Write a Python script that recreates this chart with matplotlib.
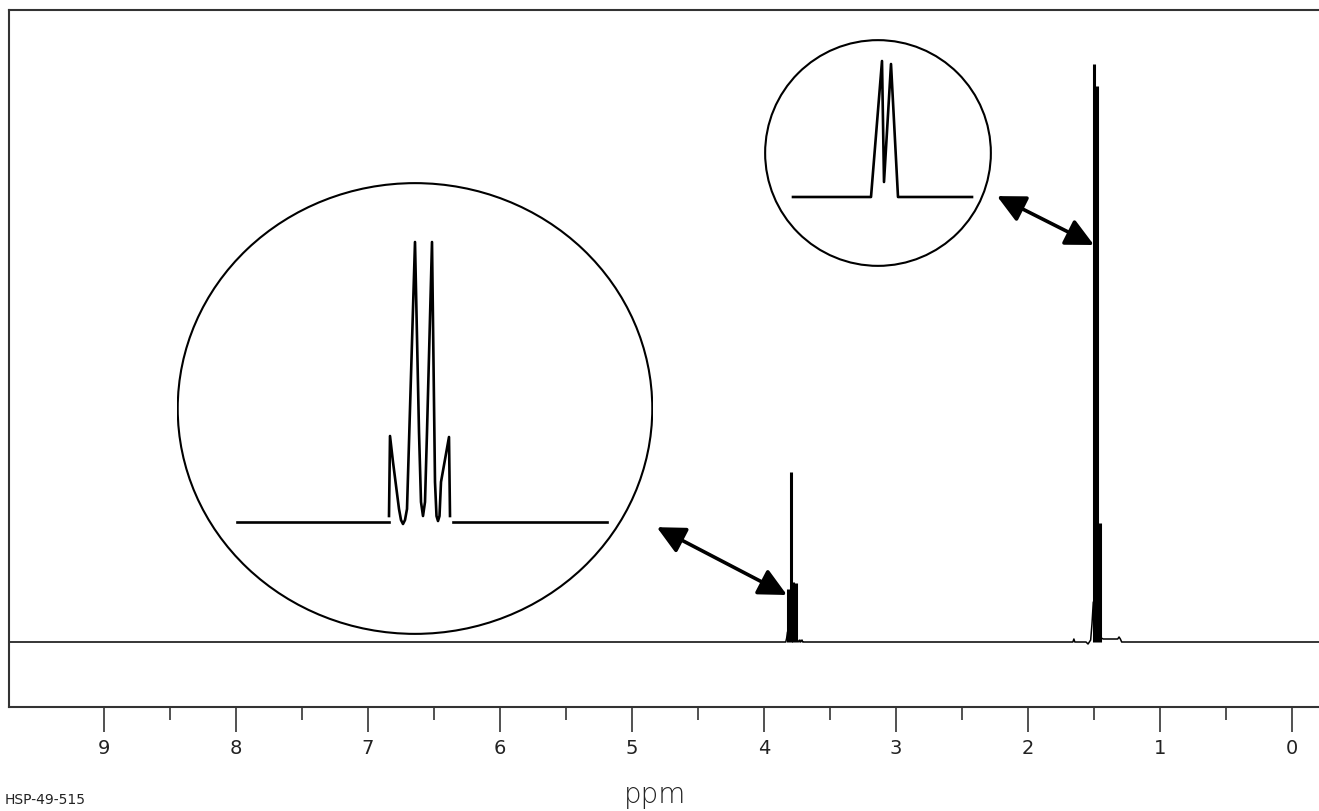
import matplotlib
matplotlib.use("Agg")
import matplotlib.pyplot as plt
from matplotlib.patches import Ellipse, ConnectionPatch

# Espectro principal: traza de la linea base (ppm, intensidad)
base_ppm = [9.72, 3.835, 3.828, 3.822, 3.760, 3.752, 3.735, 3.728, 3.722, 3.712, 3.706,
            3.70, 1.66, 1.652, 1.645, 1.56, 1.545, 1.525, 1.515, 1.505, 1.462, 1.455,
            1.445, 1.43, 1.40, 1.32, 1.31, 1.30, 1.29, -0.21]
base_int = [0, 0, 4, 10, 10, 3, 0, 2, 0, 2, 0,
            0, 0, 3, 0, 0, -2, 2, 18, 40, 40, 10,
            4, 3, 3, 3, 5, 3, 0, 0]

# Picos (lineas) del cuarteto y del doblete
pico_ppm = [3.818, 3.795, 3.780, 3.760, 1.500, 1.477, 1.455]
pico_int = [53, 170, 60, 59, 578, 556, 119]

# Ampliacion del cuarteto (unidades locales del recuadro)
cuart_x = [-26, -25, -22, -16, -14, -12, -10, -8, 0, 4, 6, 8, 10, 12,
           17, 20, 21.5, 23, 24.5, 26, 34, 35]
cuart_y = [6, 86, 60, 13, 2, -2, 2, 13, 280, 90, 20, 6, 20, 90,
           280, 40, 6, 1, 6, 40, 85, 6]
cuart_base_izq = [-178, -26]
cuart_base_der = [38, 192]

# Ampliacion del doblete
dob_x = [-85, -7, 4, 6, 13, 20, 94]
dob_y = [0, 0, 136, 15, 133, 0, 0]

ticks_mayor = list(range(0, 10))
ticks_menor = [x + 0.5 for x in range(0, 9)]

fig = plt.figure(figsize=(13.19, 8.12), dpi=100)
ax = fig.add_axes([9 / 1319, 1 - 708 / 812, 1310 / 1319, 697 / 812])

ax.plot(base_ppm, base_int, color="black", lw=1.1)
ax.vlines(pico_ppm, 0, pico_int, color="black", lw=2.2)

ax.set_xlim(9.72, -0.205)
ax.set_ylim(-65, 632)
ax.set_xticks(ticks_mayor)
ax.set_xticks(ticks_menor, minor=True)
ax.set_yticks([])
ax.tick_params(axis="x", which="major", direction="out", length=18, width=1.2,
               color="#333333", labelsize=14, labelcolor="#222222", pad=4)
ax.tick_params(axis="x", which="minor", direction="out", length=9, width=1.2,
               color="#333333")
for lado in ["top", "left", "bottom"]:
    ax.spines[lado].set_color("#333333")
    ax.spines[lado].set_linewidth(1.5)
ax.spines["right"].set_visible(False)

# Recuadro grande (cuarteto)
ins1 = fig.add_axes([177 / 1319, 1 - 636 / 812, 476 / 1319, 453 / 812])
ins1.set_xlim(-238, 238)
ins1.set_ylim(-113, 340)
ins1.axis("off")
ins1.add_patch(Ellipse((0.5, 0.5), 0.997, 0.995, transform=ins1.transAxes,
                       fill=False, lw=1.5, color="black"))
ins1.plot(cuart_x, cuart_y, color="black", lw=1.9, solid_joinstyle="round")
ins1.plot(cuart_base_izq, [0, 0], color="black", lw=1.9)
ins1.plot(cuart_base_der, [0, 0], color="black", lw=1.9)

# Recuadro pequeno (doblete)
ins2 = fig.add_axes([764 / 1319, 1 - 268 / 812, 228 / 1319, 228 / 812])
ins2.set_xlim(-114, 114)
ins2.set_ylim(-70, 158)
ins2.axis("off")
ins2.add_patch(Ellipse((0.5, 0.5), 0.99, 0.99, transform=ins2.transAxes,
                       fill=False, lw=1.5, color="black"))
ins2.plot(dob_x, dob_y, color="black", lw=1.9, solid_joinstyle="round")

# Flechas de doble punta
estilo = "<|-|>,head_length=0.85,head_width=0.42"
for ins, xy_ins, xy_pico in [(ins1, (1.008, 0.238), (3.826, 47)),
                             (ins2, (1.022, 0.311), (1.50, 397))]:
    con = ConnectionPatch(xyA=xy_ins, coordsA=ins.transAxes,
                          xyB=xy_pico, coordsB=ax.transData,
                          arrowstyle=estilo, mutation_scale=20,
                          lw=2.6, color="black")
    fig.add_artist(con)

fig.text(655 / 1319, 1 - 795 / 812, "ppm", ha="center", va="center",
         fontsize=20, color="#222222", fontweight="light")
fig.text(5 / 1319, 1 - 800 / 812, "HSP-49-515", ha="left", va="center",
         fontsize=10, color="#222222")

fig.savefig("out.png", dpi=100)
